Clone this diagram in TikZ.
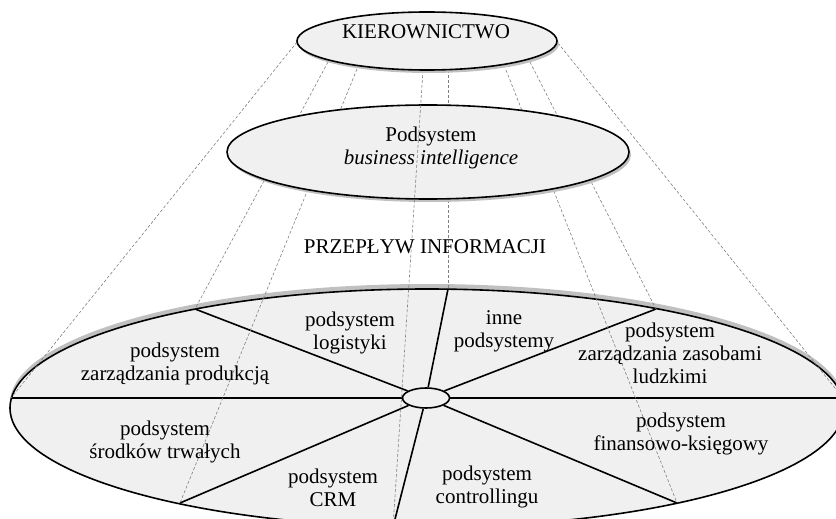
\documentclass[tikz,border=0pt]{standalone}
\usepackage{fontspec}
\setmainfont{Liberation Serif}
\usetikzlibrary{shapes.geometric,shadows}
\definecolor{bubblefill}{RGB}{240,240,240}
\definecolor{shadowgray}{RGB}{192,192,192}
\newcommand{\boxtext}[1]{\begin{tabular}[t]{@{}c@{}}#1\end{tabular}}
\tikzset{
  bubble/.style={ellipse, draw, line width=0.8pt, fill=bubblefill, inner sep=0pt,
    drop shadow={shadow xshift=1pt, shadow yshift=-1.5pt, fill=shadowgray, opacity=1}},
  spoke/.style={line width=0.8pt},
  flow/.style={gray, line width=0.3pt, dash pattern=on 1.5pt off 1pt},
  txt/.style={anchor=base, inner sep=0pt, font=\fontsize{10.5}{11.5}\selectfont}
}
\begin{document}
\begin{tikzpicture}[x=0.5pt, y=-0.5pt]
\clip (0,0) rectangle (836,519);

% big ellipse of subsystems
\fill[shadowgray] (427,403) ellipse [x radius=417, y radius=119];
\draw[line width=0.8pt, fill=bubblefill] (427,408) ellipse [x radius=417, y radius=119];

% spoke ends on the big ellipse
\coordinate (s-l) at (11,398);
\coordinate (s-r) at (843,398);
\coordinate (s-ul) at (195,309);
\coordinate (s-ur) at (656,309);
\coordinate (s-ll) at (180,503);
\coordinate (s-lr) at (677,503);
\coordinate (s-top) at (448,289);
\coordinate (s-bot) at (393,527);

% line starts under KIEROWNICTWO
\coordinate (k-a) at (297,42);
\coordinate (k-b) at (328,62);
\coordinate (k-c) at (357,69);
\coordinate (k-d) at (423,70);
\coordinate (k-e) at (448,70);
\coordinate (k-h) at (506,70);
\coordinate (k-g) at (530,62);
\coordinate (k-f) at (558,43);

% hub and spokes
\node[ellipse, draw, line width=0.8pt, fill=bubblefill, inner sep=0pt,
  minimum width=23.5pt, minimum height=10pt] (hub) at (426,398) {};
\draw[spoke] (s-l) -- (hub);
\draw[spoke] (s-r) -- (hub);
\draw[spoke] (s-ul) -- (hub);
\draw[spoke] (s-ur) -- (hub);
\draw[spoke] (s-ll) -- (hub);
\draw[spoke] (s-lr) -- (hub);
\draw[spoke] (s-top) -- (hub);
\draw[spoke] (hub) -- (s-bot);

% information flow
\draw[flow] (k-a) -- (s-l);
\draw[flow] (k-b) -- (s-ul);
\draw[flow] (k-c) -- (s-ll);
\draw[flow] (k-e) -- (s-top);
\draw[flow] (k-h) -- (s-lr);
\draw[flow] (k-g) -- (s-ur);
\draw[flow] (k-f) -- (s-r);

\node[bubble, minimum width=201pt, minimum height=47pt] (bi) at (428,152) {};
\draw[flow] (k-d) -- (s-bot);
\node[bubble, minimum width=130pt, minimum height=29pt] (kier) at (427,41) {};

% texts
\node[txt] (kier-t) at (426,39) {KIEROWNICTWO};
\node[txt] (bi-t) at (431,142) {\boxtext{Podsystem\\\textit{business intelligence}}};
\node[txt] (flow-t) at (425,253) {PRZEPŁYW INFORMACJI};
\node[txt] (prod) at (175,357) {\boxtext{podsystem\\zarządzania produkcją}};
\node[txt] (logi) at (350,326) {\boxtext{podsystem\\logistyki}};
\node[txt] (inne) at (504,324) {\boxtext{inne\\podsystemy}};
\node[txt] (ludz) at (670,337) {\boxtext{podsystem\\zarządzania zasobami\\ludzkimi}};
\node[txt] (srod) at (165,435) {\boxtext{podsystem\\środków trwałych}};
\node[txt] (crm) at (333,483) {\boxtext{podsystem\\CRM}};
\node[txt] (cont) at (487,480) {\boxtext{podsystem\\controllingu}};
\node[txt] (fin) at (681,427) {\boxtext{podsystem\\finansowo-księgowy}};
\end{tikzpicture}
\end{document}
